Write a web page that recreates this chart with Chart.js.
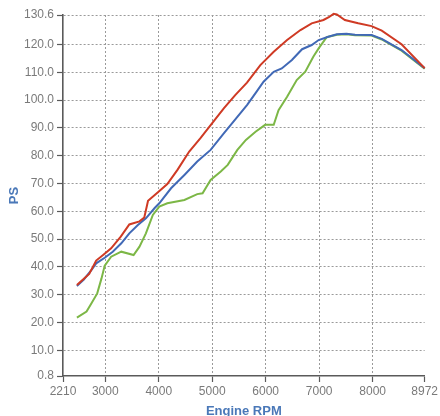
<!DOCTYPE html>
<html>
<head>
<meta charset="utf-8">
<script src="https://cdn.jsdelivr.net/npm/chart.js@4"></script>
<style>
  html, body { margin: 0; padding: 0; background: #fff; }
  canvas { display: block; }
</style>
</head>
<body>
<canvas id="dyno" width="440" height="416"></canvas>
<script>
// tick labels
const rpmTicks = [2210, 3000, 4000, 5000, 6000, 7000, 8000, 8972];
const psTicks = [0.8, 10, 20, 30, 40, 50, 60, 70, 80, 90, 100, 110, 120, 130.6];

// red run
const redRpm = [2470, 2600, 2700, 2830, 2960, 3110, 3290, 3450, 3640, 3730, 3800, 3980, 4160, 4350, 4570, 4780, 5000, 5220, 5430, 5650, 5900, 6150, 6400, 6650, 6860, 7080, 7180, 7270, 7330, 7480, 7730, 7980, 8170, 8540, 8972];
const redPs = [33.5, 35.8, 37.5, 42.3, 44.3, 46.7, 50.9, 55.3, 56.4, 57.8, 63.8, 66.8, 69.8, 74.9, 81.5, 86.3, 91.7, 97.1, 101.8, 106.3, 112.6, 117.4, 121.6, 125.2, 127.6, 128.8, 129.8, 131.0, 130.8, 128.8, 127.6, 126.6, 125.0, 120.1, 111.5];

// blue run
const blueRpm = [2470, 2600, 2740, 2830, 2990, 3140, 3300, 3450, 3610, 3760, 3920, 4010, 4230, 4480, 4720, 4970, 5220, 5470, 5650, 5810, 5960, 6150, 6300, 6490, 6680, 6860, 6990, 7170, 7330, 7510, 7670, 7980, 8170, 8540, 8972];
const bluePs = [33.2, 35.5, 38.9, 41.3, 43.3, 45.5, 48.5, 52.1, 55.1, 57.5, 61.1, 62.9, 68.3, 73.1, 77.9, 82.1, 88.1, 94.0, 98.2, 102.5, 106.6, 110.2, 111.4, 114.4, 118.3, 119.8, 121.6, 122.8, 123.7, 123.9, 123.5, 123.4, 122.0, 118.0, 111.5];

// green run
const greenRpm = [2470, 2650, 2740, 2850, 2930, 2990, 3110, 3300, 3530, 3640, 3760, 3890, 4010, 4160, 4480, 4720, 4820, 4970, 5160, 5290, 5470, 5630, 5810, 5990, 6150, 6240, 6400, 6580, 6740, 6890, 6990, 7140, 7330, 7510, 7670, 7980, 8170, 8540, 8972];
const greenPs = [21.8, 24.0, 26.9, 30.5, 35.9, 40.5, 43.7, 45.5, 44.3, 47.3, 52.1, 58.7, 61.7, 62.9, 64.1, 66.2, 66.5, 71.3, 74.3, 76.7, 82.1, 85.7, 88.6, 91.1, 91.1, 96.4, 101.2, 107.2, 110.2, 115.6, 118.6, 122.6, 123.5, 123.7, 123.3, 123.2, 121.8, 117.8, 111.3];

const toPoints = (xs, ys) => xs.map((x, i) => ({ x: x, y: ys[i] }));

const axisGrey = "#5a5a5a";
const gridGrey = "#9a9a9a";
const labelGrey = "#7a7a7a";
const titleBlue = "#4a78b8";

function run(label, xs, ys, color) {
	return {
		label: label,
		data: toPoints(xs, ys),
		borderColor: color,
		borderWidth: 2,
		pointRadius: 0,
		tension: 0,
		clip: false,
	};
}

new Chart(document.getElementById("dyno").getContext("2d"), {
	type: "line",
	data: {
		datasets: [
			run("red", redRpm, redPs, "#cf3a24"),
			run("blue", blueRpm, bluePs, "#4169b6"),
			run("green", greenRpm, greenPs, "#7cb746"),
		],
	},
	options: {
		responsive: false,
		animation: false,
		layout: { padding: { top: 15, right: 14, left: 0, bottom: 0 } },
		plugins: { legend: { display: false }, tooltip: { enabled: false } },
		scales: {
			x: {
				type: "linear",
				min: 2210,
				max: 8972,
				afterBuildTicks: (scale) => {
					scale.ticks = rpmTicks.map((v) => ({ value: v }));
				},
				afterFit: (scale) => {
					scale.height = 40;
				},
				ticks: {
					color: labelGrey,
					font: { family: "Liberation Sans", size: 12 },
					padding: 2,
					maxRotation: 0,
					callback: (v) => String(v),
				},
				grid: {
					color: (ctx) => (ctx.index === 0 || ctx.index === rpmTicks.length - 1 ? "rgba(0,0,0,0)" : gridGrey),
					tickColor: axisGrey,
					tickLength: 6,
					tickWidth: 1.2,
					lineWidth: 1,
				},
				border: { color: axisGrey, width: 1.6, dash: [2, 2] },
				title: {
					display: true,
					text: "Engine RPM",
					color: titleBlue,
					font: { family: "Liberation Sans", size: 13, weight: "bold" },
					padding: { top: 0, bottom: -3 },
				},
			},
			y: {
				min: 0.8,
				max: 130.6,
				afterBuildTicks: (scale) => {
					scale.ticks = psTicks.map((v) => ({ value: v }));
				},
				afterFit: (scale) => {
					scale.width = 63;
				},
				ticks: {
					color: labelGrey,
					font: { family: "Liberation Sans", size: 12 },
					padding: 3,
					callback: (v) => v.toFixed(1),
				},
				grid: {
					color: (ctx) => (ctx.index === 0 ? "rgba(0,0,0,0)" : gridGrey),
					tickColor: axisGrey,
					tickLength: 6,
					tickWidth: 1.2,
					lineWidth: 1,
				},
				border: { color: axisGrey, width: 1.6, dash: [2, 2] },
				title: {
					display: true,
					text: "PS",
					color: titleBlue,
					font: { family: "Liberation Sans", size: 13, weight: "bold" },
					padding: { top: 7, bottom: 0 },
				},
			},
		},
	},
});
</script>
</body>
</html>
